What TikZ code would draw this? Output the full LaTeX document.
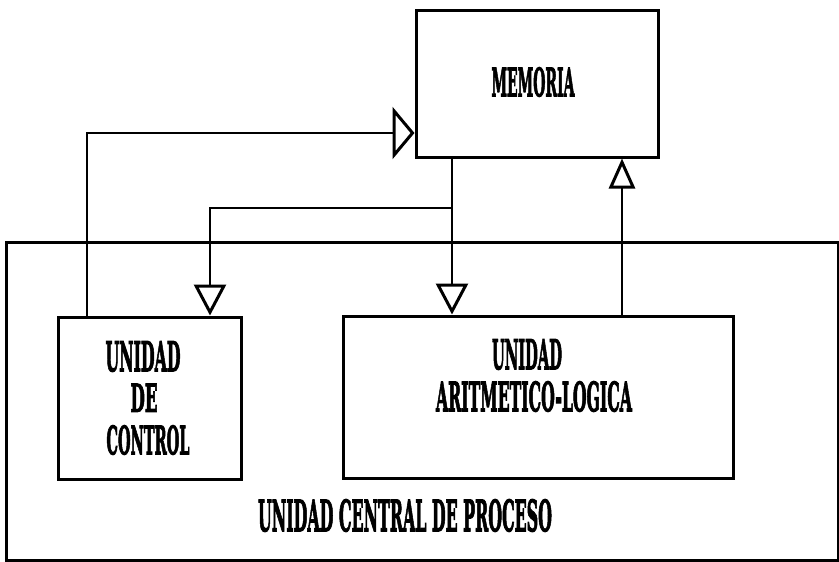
\documentclass[tikz,border=0pt]{standalone}
\usepackage{fontspec}
\usepackage{graphicx}
\setmainfont{DejaVu Serif}[BoldFeatures={FakeBold=3}]
\usetikzlibrary{arrows.meta}
\newcommand{\lbl}[3]{\resizebox{#1pt}{#2pt}{\bfseries #3}}
\begin{document}
\begin{tikzpicture}[x=1pt,y=-1pt,
  box/.style={draw, line width=3pt, inner sep=0pt},
  conn/.style={line width=2pt},
  downarr/.style={-{Triangle[open,length=31pt,width=32pt,line width=3pt]}},
  uparr/.style={-{Triangle[open,length=30pt,width=26pt,line width=3pt]}},
  sidearr/.style={-{Triangle[open,length=22pt,width=52pt,line width=3pt]}},
  txt/.style={inner sep=0pt, anchor=south}]
\useasboundingbox (0,0) rectangle (839,562);
% boxes
\node[box, minimum width=832pt, minimum height=318pt] (cpu) at (422,401) {};
\node[box, minimum width=242pt, minimum height=147pt] (mem) at (537,83.5) {};
\node[box, minimum width=183pt, minimum height=162pt] (ctrl) at (149.5,398) {};
\node[box, minimum width=390pt, minimum height=162pt] (alu) at (538,397) {};
% texts
\node[txt] (tmem) at (533,97) {\lbl{83}{29}{MEMORIA}};
\node[txt] (tc1) at (143,372) {\lbl{75}{30}{UNIDAD}};
\node[txt] (tc2) at (144,412) {\lbl{27}{28}{DE}};
\node[txt] (tc3) at (148,455) {\lbl{83}{29}{CONTROL}};
\node[txt] (ta1) at (527,370) {\lbl{70}{30}{UNIDAD}};
\node[txt] (ta2) at (534,412) {\lbl{196}{30}{ARITMETICO-LOGICA}};
\node[txt] (tcpu) at (405,532) {\lbl{294}{32}{UNIDAD CENTRAL DE PROCESO}};
% helper coordinates
\coordinate (xA) at (87,0);
\coordinate (yA) at (0,133);
\coordinate (xB) at (452,0);
\coordinate (yB) at (0,208);
\coordinate (xC) at (210,0);
\coordinate (xD) at (622,0);
% connectors
\draw[conn, sidearr] (ctrl.north -| xA) |- (mem.west |- yA);
\draw[conn, downarr] (mem.south -| xB) -- (alu.north -| xB);
\draw[conn, downarr] (mem.south -| xB) |- (xC |- yB) -- (ctrl.north -| xC);
\draw[conn, uparr] (alu.north -| xD) -- (mem.south -| xD);
\end{tikzpicture}
\end{document}
